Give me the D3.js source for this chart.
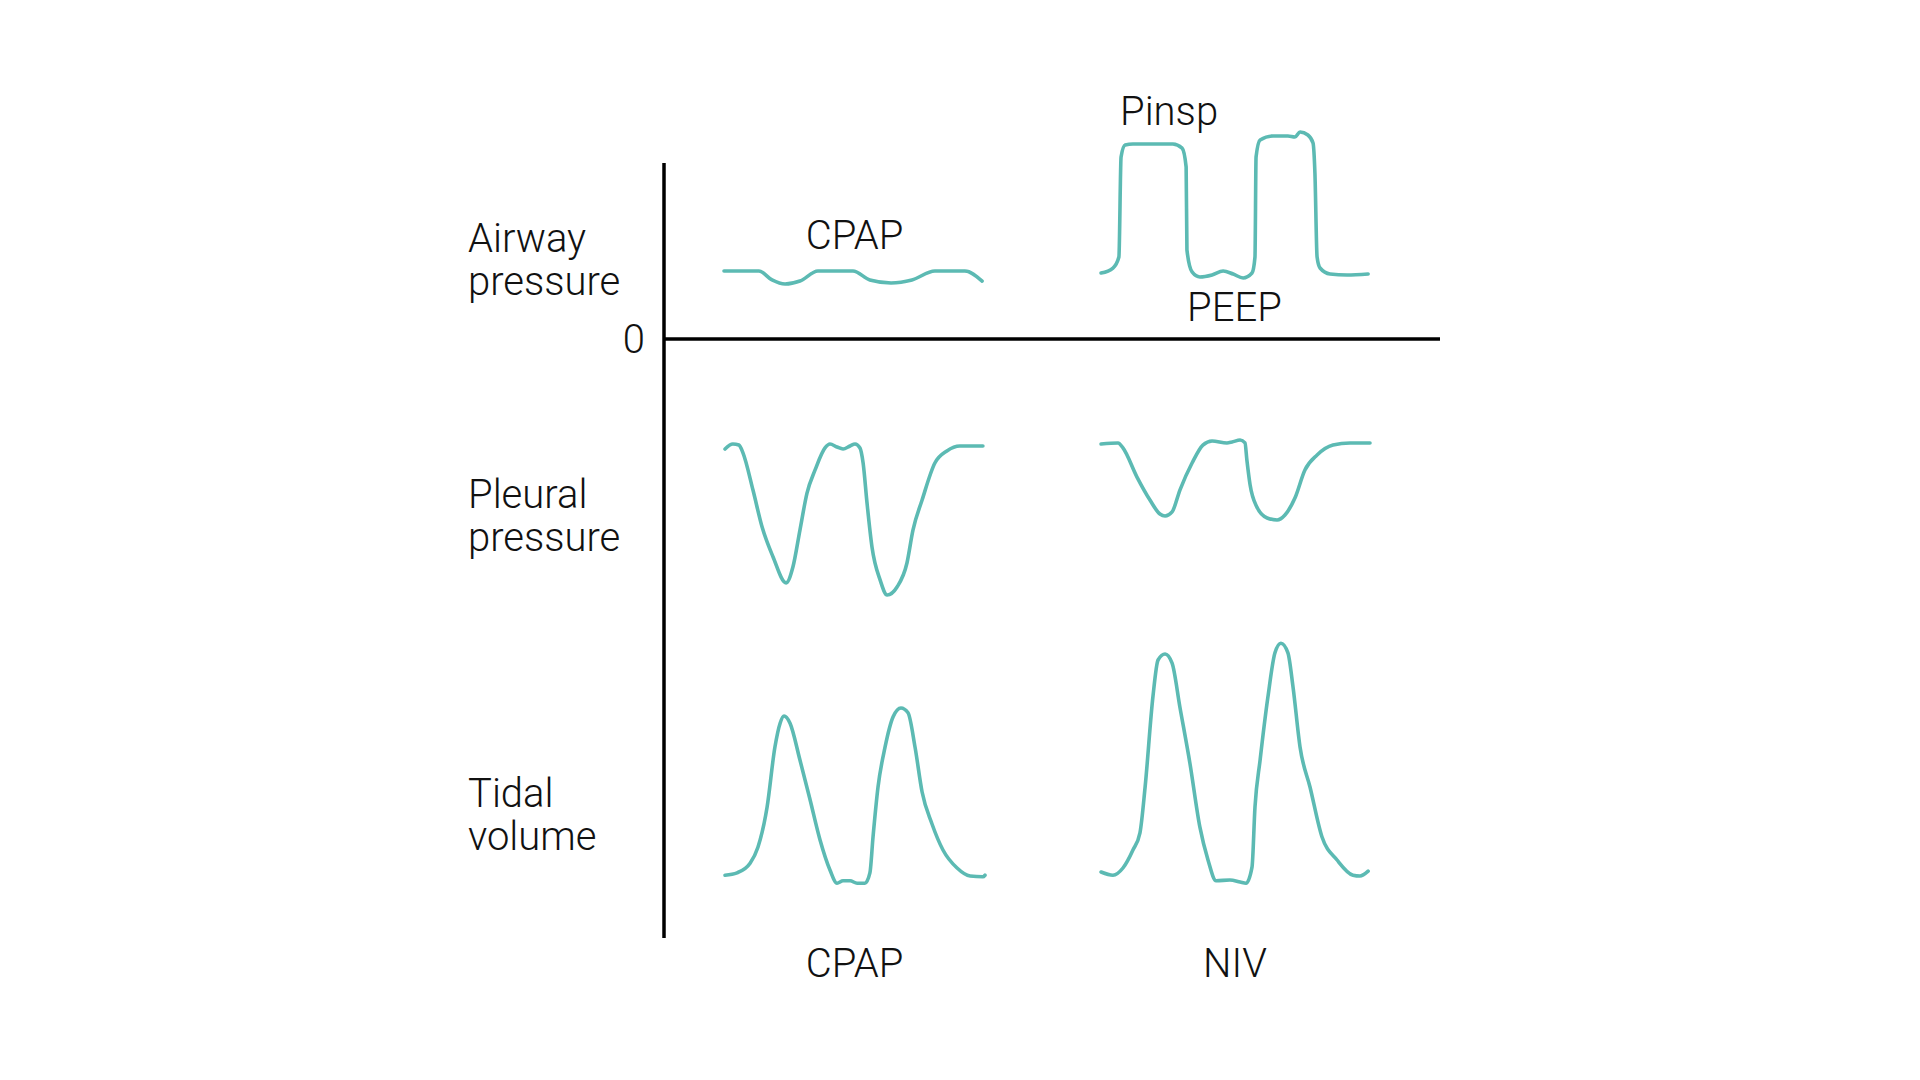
<!DOCTYPE html>
<html>
<head>
<meta charset="utf-8">
<script src="https://cdn.jsdelivr.net/npm/d3@7"></script>
<style>
    html, body { margin: 0; padding: 0; background: #fff; }
    svg text { font-family: Roboto, "Noto Sans", sans-serif; font-weight: 300; fill: #111; }
</style>
</head>
<body>
<div id="chart"></div>
<script>
// row / column labels
const rowLabels = [["Airway", "pressure"], ["Pleural", "pressure"], ["Tidal", "volume"]];
const modes = ["CPAP", "NIV"];
const zeroLabel = "0";
const peakLabel = "Pinsp";
const peepLabel = "PEEP";
const cpapLevelLabel = "CPAP";

// traces as [time, value]; time 0-10 per panel
// airway pressure (cmH2O)
const cpapAirway = [[0, 5], [1.34, 5], [1.84, 4.34], [2.34, 4.04], [2.91, 4.26], [3.6, 5], [4.94, 5],
    [5.59, 4.34], [6.4, 4.12], [7.2, 4.34], [8.08, 5], [9.23, 5], [9.89, 4.26]];
const nivAirway = [[0.04, 4.85], [0.48, 5.22], [0.7, 6.03], [0.78, 13.38], [0.93, 14.26], [1.22, 14.34],
    [2.7, 14.34], [3.04, 14.04], [3.19, 12.65], [3.22, 6.54], [3.41, 4.93], [3.7, 4.56], [4.15, 4.71],
    [4.56, 5.0], [4.93, 4.78], [5.3, 4.49], [5.63, 4.85], [5.74, 6.03], [5.78, 13.38], [5.93, 14.63],
    [6.41, 14.93], [6.96, 14.93], [7.22, 14.85], [7.41, 15.22], [7.7, 15.0], [7.89, 14.41], [7.96, 12.2],
    [8.04, 6.03], [8.15, 5.22], [8.52, 4.78], [9.15, 4.71], [9.93, 4.78]];

// pleural pressure (relative)
const cpapPleural = [[0.04, -0.33], [0.34, 0], [0.57, -0.07], [0.73, -0.6], [1.11, -3.05], [1.46, -5.5],
    [1.88, -7.48], [2.38, -9.2], [2.64, -8.15], [2.91, -5.7], [3.18, -3.25], [3.49, -1.72], [3.87, -0.26],
    [4.06, 0], [4.33, -0.2], [4.56, -0.33], [4.83, -0.13], [5.02, 0], [5.21, -0.26], [5.33, -1.26],
    [5.48, -3.91], [5.67, -6.82], [5.98, -9.0], [6.25, -10.0], [6.63, -9.47], [7.01, -7.88], [7.24, -5.7],
    [7.59, -3.71], [8.08, -1.26], [8.54, -0.46], [9.04, -0.13], [9.92, -0.13]];
const nivPleural = [[0.04, 0], [0.67, 0.07], [0.85, -0.26], [1.37, -2.19], [1.85, -3.71], [2.22, -4.64],
    [2.41, -4.77], [2.67, -4.5], [2.96, -3.05], [3.41, -1.26], [3.81, -0.07], [4.15, 0.2], [4.7, 0.07],
    [4.89, 0.13], [5.19, 0.26], [5.37, 0.07], [5.44, -1.06], [5.56, -2.72], [5.81, -4.17], [6.19, -4.9],
    [6.56, -5.03], [6.85, -4.7], [7.22, -3.58], [7.59, -1.72], [8.04, -0.73], [8.63, -0.07], [9.26, 0.07],
    [10.0, 0.07]];

// tidal volume (mL)
const cpapTidal = [[0.04, 12], [0.5, 18], [1.0, 42], [1.3, 82], [1.65, 182], [1.95, 332], [2.15, 392],
    [2.3, 410], [2.53, 392], [2.91, 300], [3.3, 200], [3.68, 100], [4.06, 25], [4.33, -8], [4.56, -2],
    [4.83, -2], [5.1, -8], [5.4, -8], [5.59, 18], [5.71, 108], [5.9, 232], [6.17, 332], [6.48, 408],
    [6.78, 430], [7.05, 418], [7.32, 332], [7.59, 220], [7.97, 140], [8.39, 75], [8.93, 30], [9.43, 10],
    [9.92, 8], [10.0, 12]];
const nivTidal = [[0.04, 20], [0.48, 12], [0.85, 30], [1.22, 75], [1.48, 118], [1.67, 232], [1.96, 458],
    [2.15, 550], [2.41, 565], [2.67, 542], [2.96, 432], [3.33, 292], [3.7, 132], [4.0, 50], [4.3, -2],
    [4.81, 0], [5.19, -5], [5.41, -8], [5.63, 32], [5.74, 182], [5.93, 300], [6.22, 458], [6.48, 568],
    [6.7, 592], [6.96, 568], [7.15, 482], [7.41, 332], [7.78, 232], [8.22, 108], [8.78, 50], [9.37, 12],
    [9.63, 10], [9.93, 22]];

const width = 1920, height = 1080;
const colour = "#5cbab3";
const fontSize = 40;

const svg = d3.select("#chart").append("svg")
    .attr("width", width)
    .attr("height", height)
    .style("background", "#fff");

// scales
const x = {
    CPAP: d3.scaleLinear().domain([0, 10]).range([724, 985]),
    NIV: d3.scaleLinear().domain([0, 10]).range([1100, 1370])
};
const yAirway = d3.scaleLinear().domain([0, 10]).range([339, 203]);
const yPleural = d3.scaleLinear().domain([-10, 0]).range([595, 444]);
const yTidal = d3.scaleLinear().domain([0, 600]).range([880, 640]);

const axisX = 664;

// axes
svg.append("line")
    .attr("x1", axisX).attr("x2", axisX)
    .attr("y1", 163).attr("y2", 938)
    .attr("stroke", "#000").attr("stroke-width", 3.5);

svg.append("line")
    .attr("x1", axisX).attr("x2", 1440)
    .attr("y1", yAirway(0)).attr("y2", yAirway(0))
    .attr("stroke", "#000").attr("stroke-width", 3.5);

svg.append("text")
    .attr("x", 645)
    .attr("y", yAirway(0) + 14)
    .attr("text-anchor", "end")
    .style("font-size", `${fontSize}px`)
    .text(zeroLabel);

// traces
const traces = [
    { data: cpapAirway, mode: "CPAP", y: yAirway },
    { data: nivAirway, mode: "NIV", y: yAirway },
    { data: cpapPleural, mode: "CPAP", y: yPleural },
    { data: nivPleural, mode: "NIV", y: yPleural },
    { data: cpapTidal, mode: "CPAP", y: yTidal },
    { data: nivTidal, mode: "NIV", y: yTidal }
];

traces.forEach(t => {
    const line = d3.line()
        .x(d => x[t.mode](d[0]))
        .y(d => t.y(d[1]))
        .curve(d3.curveMonotoneX);

    svg.append("path")
        .datum(t.data)
        .attr("fill", "none")
        .attr("stroke", colour)
        .attr("stroke-width", 3.6)
        .attr("stroke-linecap", "round")
        .attr("stroke-linejoin", "round")
        .attr("d", line);
});

// row labels
const rowBaselines = [252, 508, 807];
rowLabels.forEach((lines, i) => {
    const txt = svg.append("text")
        .attr("x", 468)
        .attr("y", rowBaselines[i])
        .style("font-size", `${fontSize}px`);
    lines.forEach((l, j) => {
        txt.append("tspan")
            .attr("x", 468)
            .attr("dy", j === 0 ? 0 : 43)
            .text(l);
    });
});

// column labels
modes.forEach(m => {
    svg.append("text")
        .attr("x", (x[m].range()[0] + x[m].range()[1]) / 2)
        .attr("y", 977)
        .attr("text-anchor", "middle")
        .style("font-size", `${fontSize}px`)
        .text(m);
});

// annotations
svg.append("text")
    .attr("x", (x.CPAP.range()[0] + x.CPAP.range()[1]) / 2)
    .attr("y", 249)
    .attr("text-anchor", "middle")
    .style("font-size", `${fontSize}px`)
    .text(cpapLevelLabel);

svg.append("text")
    .attr("x", 1120)
    .attr("y", 125)
    .style("font-size", `${fontSize}px`)
    .text(peakLabel);

svg.append("text")
    .attr("x", 1187)
    .attr("y", 321)
    .style("font-size", `${fontSize}px`)
    .text(peepLabel);
</script>
</body>
</html>
